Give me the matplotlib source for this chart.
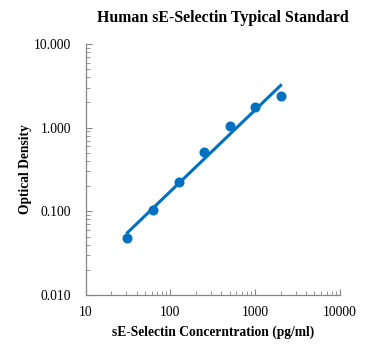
import numpy as np
import matplotlib
matplotlib.use("Agg")
import matplotlib.pyplot as plt
from matplotlib.ticker import FixedLocator, FuncFormatter, LogLocator, NullFormatter

# standard curve data
conc = [31.25, 62.5, 125, 250, 500, 1000, 2000]
od = [0.0475, 0.104, 0.222, 0.507, 1.035, 1.75, 2.37]

x_ticks = [10, 100, 1000, 10000]
y_ticks = [0.01, 0.1, 1, 10]

plt.rcParams['font.family'] = ['Liberation Serif', 'DejaVu Serif']

fig = plt.figure(figsize=(3.71, 3.5), dpi=100)
ax = fig.add_axes([85.5 / 371, 55 / 350, 254.5 / 371, 251 / 350])

blue = '#0070C0'
ax.plot(conc, od, 'o', color=blue, markersize=6.2, zorder=3)

# power trendline fitted on log-log
lx = np.log10(conc)
ly = np.log10(od)
k, b = np.polyfit(lx, ly, 1)
fx = np.array([conc[0], conc[-1]])
ax.plot(fx, 10 ** (k * np.log10(fx) + b), color=blue, lw=2.2, zorder=2)

ax.set_xscale('log')
ax.set_yscale('log')
ax.set_xlim(10, 10000)
ax.set_ylim(0.01, 10)

ax.xaxis.set_major_locator(FixedLocator(x_ticks))
ax.yaxis.set_major_locator(FixedLocator(y_ticks))
ax.xaxis.set_major_formatter(FuncFormatter(lambda v, p: '%d' % v))
ax.yaxis.set_major_formatter(FuncFormatter(lambda v, p: '%.3f' % v))
ax.xaxis.set_minor_locator(LogLocator(base=10, subs=np.arange(2, 10)))
ax.yaxis.set_minor_locator(LogLocator(base=10, subs=np.arange(2, 10)))
ax.xaxis.set_minor_formatter(NullFormatter())
ax.yaxis.set_minor_formatter(NullFormatter())

for s in ['top', 'right']:
    ax.spines[s].set_visible(False)
for s in ['left', 'bottom']:
    ax.spines[s].set_color('#868686')
    ax.spines[s].set_linewidth(0.9)

ax.tick_params(which='both', direction='in', color='#868686', labelsize=9.8, labelcolor='black')
ax.tick_params(which='major', length=4, width=0.8)
ax.tick_params(which='minor', length=3, width=0.6)
ax.tick_params(axis='y', pad=10.5)
ax.tick_params(axis='x', pad=8)

fig.text(0.602, 0.949, 'Human sE-Selectin Typical Standard', ha='center', va='center',
         fontsize=11.4, fontweight='bold')
ax.set_xlabel('sE-Selectin Concerntration (pg/ml)', fontsize=9.75, fontweight='bold', labelpad=4.5)
ax.set_ylabel('Optical Density', fontsize=9.75, fontweight='bold', labelpad=1)

fig.savefig('out.png', dpi=100)
